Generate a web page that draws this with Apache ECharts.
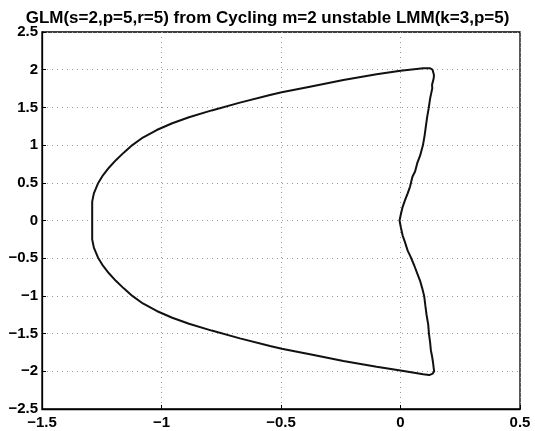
<!DOCTYPE html>
<html>
<head>
<meta charset="utf-8">
<script src="https://cdn.jsdelivr.net/npm/echarts@6/dist/echarts.min.js"></script>
<style>
  html, body { margin: 0; padding: 0; background: #fff; }
  #chart { width: 535px; height: 431px; }
</style>
</head>
<body>
<div id="chart"></div>
<script>
// boundary curve (closed loop)
var curveX = [
  -1.290, -1.290, -1.290, -1.283, -1.266, -1.245, -1.220, -1.191, -1.158, -1.122,
  -1.078, -1.020, -0.955, -0.885, -0.790, -0.672, -0.546, -0.497, -0.379, -0.239,
  -0.100, 0.000, 0.095, 0.122, 0.134, 0.140, 0.139, 0.132, 0.133, 0.124,
  0.118, 0.112, 0.107, 0.101, 0.094, 0.082, 0.070, 0.061, 0.050, 0.040,
  0.030, 0.019, 0.008, 0.002, -0.004,
  0.002, 0.009, 0.018, 0.030, 0.042, 0.058, 0.070, 0.082, 0.091, 0.099,
  0.104, 0.109, 0.116, 0.119, 0.124, 0.127, 0.132, 0.136, 0.139, 0.141,
  0.135, 0.120, 0.095, 0.000, -0.100, -0.239, -0.379, -0.497, -0.546, -0.672,
  -0.790, -0.885, -0.955, -1.020, -1.078, -1.122, -1.158, -1.191, -1.220, -1.245,
  -1.266, -1.283, -1.290, -1.290, -1.290
];
var curveY = [
  0.000, 0.150, 0.250, 0.360, 0.490, 0.600, 0.700, 0.800, 0.900, 1.000,
  1.100, 1.200, 1.290, 1.370, 1.460, 1.563, 1.665, 1.700, 1.775, 1.863,
  1.939, 1.987, 2.018, 2.020, 2.000, 1.930, 1.886, 1.800, 1.753, 1.620,
  1.490, 1.380, 1.270, 1.130, 1.000, 0.860, 0.760, 0.650, 0.580, 0.450,
  0.360, 0.270, 0.170, 0.090, 0.000,
  -0.100, -0.200, -0.280, -0.400, -0.480, -0.600, -0.700, -0.800, -0.900, -1.000,
  -1.130, -1.250, -1.380, -1.500, -1.620, -1.720, -1.800, -1.880, -1.960, -2.000,
  -2.030, -2.050, -2.040, -1.990, -1.939, -1.863, -1.775, -1.700, -1.665, -1.563,
  -1.460, -1.370, -1.290, -1.200, -1.100, -1.000, -0.900, -0.800, -0.700, -0.600,
  -0.490, -0.360, -0.250, -0.150, 0.000
];

var titleText = 'GLM(s=2,p=5,r=5) from Cycling m=2 unstable LMM(k=3,p=5)';
var xTicks = { min: -1.5, max: 0.5, interval: 0.5 };
var yTicks = { min: -2.5, max: 2.5, interval: 0.5 };

var points = curveX.map(function (x, i) { return [x, curveY[i]]; });

function fmt(v) {
  return String(+v.toFixed(2)).replace('-', '\u2212');
}

var labelFont = {
  color: '#000',
  fontFamily: 'Liberation Sans, Arial, sans-serif',
  fontWeight: 'bold',
  fontSize: 15
};

var chart = echarts.init(document.getElementById('chart'));
chart.setOption({
  animation: false,
  backgroundColor: '#fff',
  title: {
    text: titleText,
    left: 'center',
    top: 5,
    textStyle: {
      color: '#000',
      fontFamily: 'Liberation Sans, Arial, sans-serif',
      fontWeight: 'bold',
      fontSize: 17
    }
  },
  grid: {
    left: 42, right: 15, top: 32, bottom: 22,
    show: true,
    borderColor: '#000',
    borderWidth: 1.3,
    backgroundColor: 'transparent'
  },
  xAxis: {
    type: 'value',
    min: xTicks.min, max: xTicks.max, interval: xTicks.interval,
    axisLine: { show: true, onZero: false, lineStyle: { color: '#000', width: 1.3 } },
    axisTick: { show: true, inside: true, length: 4, lineStyle: { color: '#000' } },
    axisLabel: Object.assign({ margin: 6, formatter: fmt }, labelFont),
    splitLine: { show: true, lineStyle: { color: '#999', type: [1, 4], width: 1 } }
  },
  yAxis: {
    type: 'value',
    min: yTicks.min, max: yTicks.max, interval: yTicks.interval,
    axisLine: { show: true, onZero: false, lineStyle: { color: '#000', width: 1.3 } },
    axisTick: { show: true, inside: true, length: 4, lineStyle: { color: '#000' } },
    axisLabel: Object.assign({ margin: 4, formatter: fmt }, labelFont),
    splitLine: { show: true, lineStyle: { color: '#999', type: [1, 4], width: 1 } }
  },
  series: [{
    type: 'line',
    data: points,
    showSymbol: false,
    symbol: 'none',
    smooth: false,
    lineStyle: { color: '#111', width: 2 }
  }]
});
</script>
</body>
</html>
